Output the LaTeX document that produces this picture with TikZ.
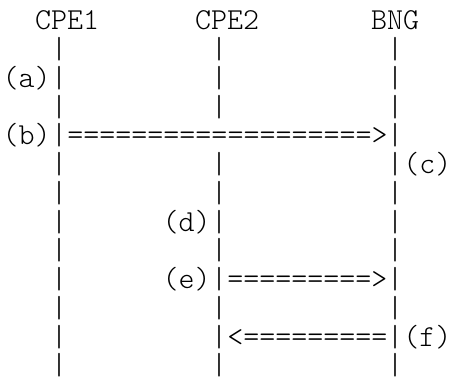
\documentclass[tikz,border=0pt]{standalone}
\usetikzlibrary{positioning}
\tikzset{
    ascii/.style={font=\ttfamily\fontseries{l}\fontsize{30.48}{28.75}\selectfont, inner sep=0pt, anchor=base west}
}

\begin{document}
\begin{tikzpicture}[x=16pt, y=-28.75pt]
    \useasboundingbox (0,0) rectangle (28.1875,13.391);
    % Headers
    \node[ascii] (cpe1) at (2.18,1.043) {CPE1};
    \node[ascii] (cpe2) at (12.18,1.043) {CPE2};
    \node[ascii] (bng) at (23.18,1.043) {BNG};

    % Lifelines
    \foreach \r in {1,...,12} {
        \node[ascii] (l1-\r) at (3.18,\r+1.043) {|};
        \node[ascii] (l3-\r) at (24.18,\r+1.043) {|};
    }
    \foreach \r in {1,2,3,5,6,7,8,9,10,11,12} \node[ascii] (l2-\r) at (13.18,\r+1.043) {|};

    % Messages
    \node[ascii, right=0pt of l1-4.base east, anchor=base west] (msgb) {===================>};
    \node[ascii, right=0pt of l2-9.base east, anchor=base west] (msge) {=========>};
    \node[ascii, right=0pt of l2-11.base east, anchor=base west] (msgf) {<=========};

    % Labels
    \node[ascii, anchor=base east] (a) at (l1-2.base west) {(a)};
    \node[ascii, anchor=base east] (b) at (l1-4.base west) {(b)};
    \node[ascii] (c) at (l3-5.base east) {(c)};
    \node[ascii, anchor=base east] (d) at (l2-7.base west) {(d)};
    \node[ascii, anchor=base east] (e) at (l2-9.base west) {(e)};
    \node[ascii] (f) at (l3-11.base east) {(f)};
\end{tikzpicture}
\end{document}
